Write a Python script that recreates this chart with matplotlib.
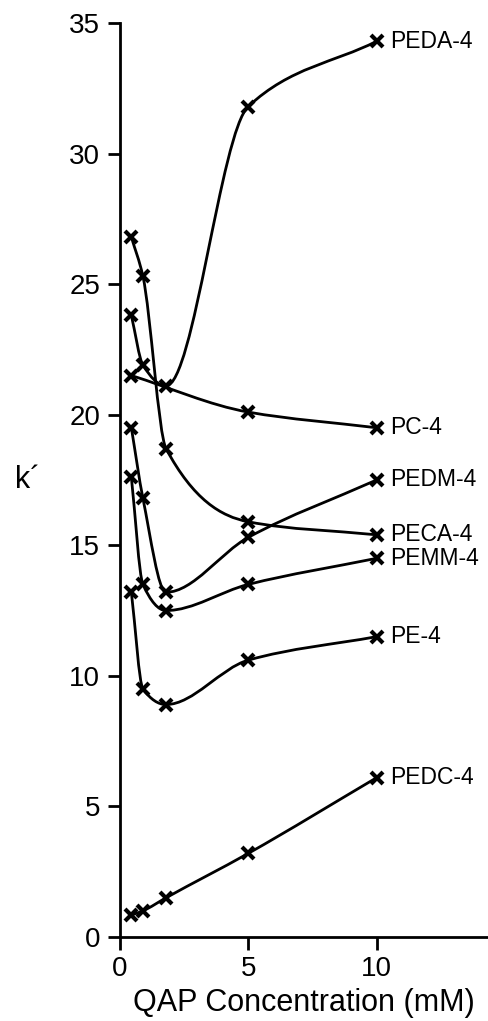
import numpy as np
import matplotlib
matplotlib.use("Agg")
import matplotlib.pyplot as plt
from matplotlib.path import Path
from matplotlib.patches import PathPatch

plt.rcParams['font.family'] = ['Liberation Sans', 'DejaVu Sans']

# concentrations (mM)
conc = [0.45, 0.9, 1.8, 5, 10]
conc_pc = [0.45, 5, 10]

peda = [23.8, 21.9, 21.1, 31.8, 34.3]
peca = [26.8, 25.3, 18.7, 15.9, 15.4]
pc = [21.5, 20.1, 19.5]
pedm = [19.5, 16.8, 13.2, 15.3, 17.5]
pemm = [17.6, 13.5, 12.5, 13.5, 14.5]
pe = [13.2, 9.5, 8.9, 10.6, 11.5]
pedc = [0.84, 1.0, 1.5, 3.2, 6.1]

series = [
    ("PEDA-4", conc, peda),
    ("PECA-4", conc, peca),
    ("PC-4", conc_pc, pc),
    ("PEDM-4", conc, pedm),
    ("PEMM-4", conc, pemm),
    ("PE-4", conc, pe),
    ("PEDC-4", conc, pedc),
]


def smooth_path(xs, ys):
    """monotone cubic (Fritsch-Carlson) as bezier path"""
    xs = np.asarray(xs, float)
    ys = np.asarray(ys, float)
    h = np.diff(xs)
    d = np.diff(ys) / h
    m = np.zeros_like(ys)
    m[0] = d[0]
    m[-1] = d[-1]
    for i in range(1, len(xs) - 1):
        if d[i-1] * d[i] <= 0:
            m[i] = 0
        else:
            w1 = 2*h[i] + h[i-1]
            w2 = h[i] + 2*h[i-1]
            m[i] = (w1 + w2) / (w1/d[i-1] + w2/d[i])
    verts = [(xs[0], ys[0])]
    codes = [Path.MOVETO]
    for i in range(len(xs) - 1):
        verts += [(xs[i] + h[i]/3, ys[i] + m[i]*h[i]/3),
                  (xs[i+1] - h[i]/3, ys[i+1] - m[i+1]*h[i]/3),
                  (xs[i+1], ys[i+1])]
        codes += [Path.CURVE4] * 3
    return Path(verts, codes)


fig = plt.figure(figsize=(4.89, 10.21), dpi=100)
ax = fig.add_axes([0.245, 0.0823, 0.751, 0.8952])

for name, xs, ys in series:
    ax.add_patch(PathPatch(smooth_path(xs, ys), fill=False, lw=2.0,
                           edgecolor='black'))
    ax.plot(xs, ys, linestyle='none', marker='x', ms=9, mew=3,
            color='black', clip_on=False)
    ax.annotate(name, (xs[-1], ys[-1]), xytext=(10, 0),
                textcoords='offset points', va='center', ha='left',
                fontsize=16.5)

ax.set_xlim(0, 14.3)
ax.set_ylim(0, 35)
ax.set_xticks([0, 5, 10])
ax.set_yticks([0, 5, 10, 15, 20, 25, 30, 35])
ax.tick_params(direction='out', length=9, width=2, labelsize=20, pad=5)
for s in ['top', 'right']:
    ax.spines[s].set_visible(False)
for s in ['left', 'bottom']:
    ax.spines[s].set_linewidth(2)

ax.set_xlabel("QAP Concentration (mM)", fontsize=22, labelpad=4)
ax.set_ylabel("k\u00b4", fontsize=22, rotation=0, labelpad=30, va='center')

fig.savefig("out.png", dpi=100)
